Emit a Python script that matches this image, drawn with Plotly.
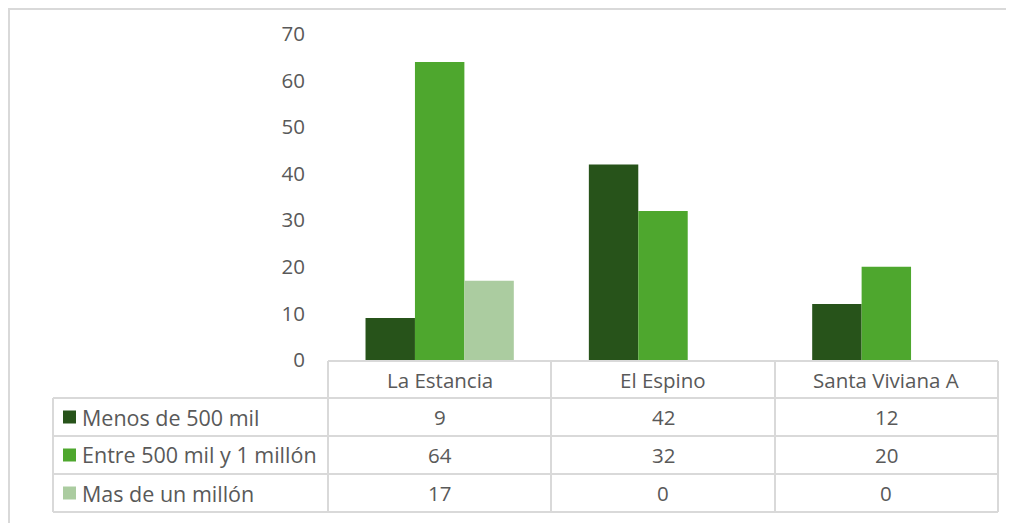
import plotly.graph_objects as go

categories = ["La Estancia", "El Espino", "Santa Viviana A"]
series_names = ["Menos de 500 mil", "Entre 500 mil y 1 millón", "Mas de un millón"]
menos_500 = [9, 42, 12]
entre_500_1m = [64, 32, 20]
mas_1m = [17, 0, 0]
y_ticks = [0, 10, 20, 30, 40, 50, 60, 70]

series_values = [menos_500, entre_500_1m, mas_1m]
colors = ["#27531A", "#4EA72E", "#ABCCA0"]

OFF = 8  # page body margin
W, H = 1014 - OFF, 523 - OFF
L, R, T, B = 328, 998, 34, 360  # plot area in page pixels
FONT = "Open Sans"
TXT = "#595959"
GRID = "#D9D9D9"
FS_NUM = 20.5
FS_LBL = 21.5


def px(x):
    return (x - L) / (R - L)


def py(y):
    return (B - y) / (B - T)


fig = go.Figure()
for name, vals, c in zip(series_names, series_values, colors):
    fig.add_trace(go.Bar(x=categories, y=vals, name=name, marker=dict(color=c, line=dict(width=0))))

shapes = []
annotations = []

# outer chart frame
shapes.append(dict(type="rect", xref="paper", yref="paper", x0=px(9), x1=px(1040), y0=py(560), y1=py(9),
                   line=dict(color=GRID, width=2), fillcolor="rgba(0,0,0,0)", layer="below"))

# table geometry (pixels)
row_edges = [361, 398, 436, 474, 512]
col_edges = [53, 328, 551, 775, 998]

shapes.append(dict(type="line", xref="paper", yref="paper", x0=px(328), x1=px(998), y0=py(361), y1=py(361),
                   line=dict(color=GRID, width=2)))
for yy in row_edges[1:]:
    shapes.append(dict(type="line", xref="paper", yref="paper", x0=px(53), x1=px(998), y0=py(yy), y1=py(yy),
                       line=dict(color=GRID, width=2)))
shapes.append(dict(type="line", xref="paper", yref="paper", x0=px(53), x1=px(53), y0=py(398), y1=py(512),
                   line=dict(color=GRID, width=2)))
for xx in col_edges[1:]:
    shapes.append(dict(type="line", xref="paper", yref="paper", x0=px(xx), x1=px(xx), y0=py(361), y1=py(512),
                       line=dict(color=GRID, width=2)))

for cat in categories:
    annotations.append(dict(x=cat, xref="x", y=py(380), yref="paper", text=cat, showarrow=False,
                            font=dict(family=FONT, size=FS_NUM, color=TXT), xanchor="center", yanchor="middle"))

for i, (name, vals, c) in enumerate(zip(series_names, series_values, colors)):
    yc = (row_edges[i + 1] + row_edges[i + 2]) / 2
    shapes.append(dict(type="rect", xref="paper", yref="paper", x0=px(63), x1=px(76), y0=py(yc - 6.5),
                       y1=py(yc + 6.5), line=dict(width=0), fillcolor=c))
    annotations.append(dict(x=px(80), xref="paper", y=py(yc), yref="paper", text=name, showarrow=False,
                            font=dict(family=FONT, size=FS_LBL, color=TXT), xanchor="left", yanchor="middle"))
    for cat, v in zip(categories, vals):
        annotations.append(dict(x=cat, xref="x", y=py(yc), yref="paper", text=str(v), showarrow=False,
                                font=dict(family=FONT, size=FS_NUM, color=TXT), xanchor="center", yanchor="middle"))

fig.update_layout(
    width=W, height=H,
    margin=dict(l=L - OFF, r=1014 - R, t=T - OFF, b=523 - B),
    paper_bgcolor="white", plot_bgcolor="white",
    barmode="group", bargap=0.336, bargroupgap=0,
    showlegend=False,
    font=dict(family=FONT, size=FS_NUM, color=TXT),
    xaxis=dict(showticklabels=False, showline=False, showgrid=False, zeroline=False, ticks=""),
    yaxis=dict(range=[0, 70], tickvals=y_ticks, showgrid=False, zeroline=False, showline=False, ticks="",
               ticklabelstandoff=22, tickfont=dict(family=FONT, size=FS_NUM, color=TXT)),
    shapes=shapes,
    annotations=annotations,
)

fig.write_html("out.html")
